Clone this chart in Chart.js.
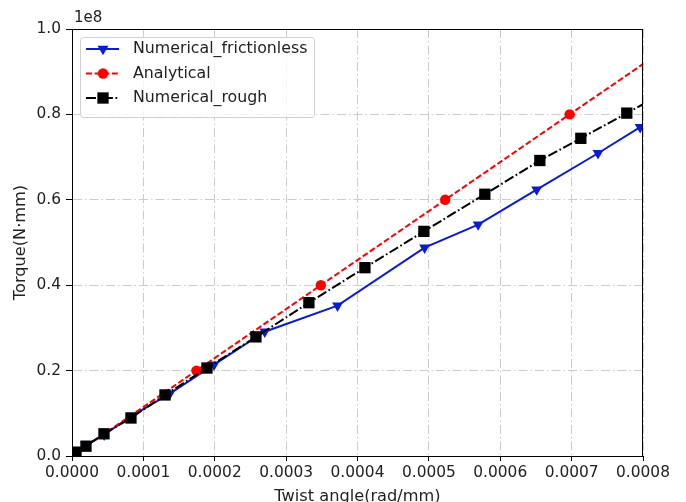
<!DOCTYPE html>
<html>
<head>
<meta charset="utf-8">
<script src="https://cdn.jsdelivr.net/npm/chart.js@4.4.1/dist/chart.umd.min.js"></script>
<style>
  html, body { margin: 0; padding: 0; background: #fff; }
  #wrap { width: 686px; height: 502px; }
</style>
</head>
<body>
<div id="wrap"><canvas id="grafico" width="686" height="502"></canvas></div>
<script>
// Datos (angulo en rad/mm, par en N·mm)
const seriesNames = ['Numerical_frictionless', 'Analytical', 'Numerical_rough'];

const frictionlessAngle  = [0.0000070, 0.0000190, 0.0000450, 0.0000840, 0.0001370, 0.0001990, 0.0002700, 0.0003720, 0.0004940, 0.0005690, 0.0006510, 0.0007370, 0.0007960];
const frictionlessTorque = [0.005e8, 0.025e8, 0.050e8, 0.094e8, 0.146e8, 0.214e8, 0.291e8, 0.352e8, 0.488e8, 0.542e8, 0.624e8, 0.709e8, 0.770e8];

const analyticalAngle  = [0.0000000, 0.0001743, 0.0003486, 0.0005229, 0.0006972, 0.0008715];
const analyticalTorque = [0.000e8, 0.200e8, 0.400e8, 0.600e8, 0.800e8, 1.000e8];

const roughAngle  = [0.0000056, 0.0000196, 0.0000448, 0.0000826, 0.0001303, 0.0001891, 0.0002577, 0.0003319, 0.0004104, 0.0004930, 0.0005784, 0.0006555, 0.0007129, 0.0007773, 0.0008450];
const roughTorque = [0.009e8, 0.023e8, 0.052e8, 0.089e8, 0.143e8, 0.206e8, 0.279e8, 0.359e8, 0.441e8, 0.526e8, 0.613e8, 0.692e8, 0.744e8, 0.803e8, 0.865e8];

const xTickStep = 0.0001;
const yTickStep = 0.2e8;

function toPoints(xs, ys) {
    return xs.map((x, i) => ({ x: x, y: ys[i] }));
}

const FONT = 'DejaVu Sans';

// Leyenda al estilo matplotlib (linea + marcador)
const legendPlugin = {
    id: 'mplLegend',
    afterDraw(chart) {
        const ctx = chart.ctx;
        const area = chart.chartArea;
        ctx.save();
        // marco completo
        ctx.strokeStyle = '#000';
        ctx.lineWidth = 1;
        ctx.setLineDash([]);
        ctx.strokeRect(area.left + 0.5, area.top + 0.5, area.right - area.left - 1, area.bottom - area.top);
        // 1e8
        ctx.fillStyle = '#222';
        ctx.font = '15px "' + FONT + '"';
        ctx.textBaseline = 'middle';
        ctx.textAlign = 'left';
        ctx.fillText('1e8', area.left + 2, 18);

        // caja de la leyenda
        const bx = 80, by = 37, bw = 234, bh = 80;
        ctx.beginPath();
        ctx.roundRect(bx + 0.5, by + 0.5, bw, bh, 3);
        ctx.fillStyle = 'rgba(255,255,255,0.8)';
        ctx.fill();
        ctx.strokeStyle = '#d0d0d0';
        ctx.stroke();

        chart.data.datasets.forEach((ds, i) => {
            const y = 49 + i * 24.5;
            ctx.strokeStyle = ds.borderColor;
            ctx.lineWidth = ds.borderWidth;
            ctx.setLineDash(ds.borderDash || []);
            ctx.beginPath();
            ctx.moveTo(86, y);
            ctx.lineTo(119, y);
            ctx.stroke();
            ctx.setLineDash([]);
            ctx.fillStyle = ds.pointBackgroundColor;
            const cx = 103, r = ds.pointRadius;
            ctx.beginPath();
            if (ds.pointStyle === 'circle') {
                ctx.arc(cx, y, r, 0, Math.PI * 2);
            } else if (ds.pointStyle === 'rect') {
                const s = r * Math.SQRT1_2;
                ctx.rect(cx - s, y - s, 2 * s, 2 * s);
            } else {
                ctx.moveTo(cx, y + r);
                ctx.lineTo(cx - r * 0.866, y - r / 2);
                ctx.lineTo(cx + r * 0.866, y - r / 2);
                ctx.closePath();
            }
            ctx.fill();
            ctx.fillStyle = '#222';
            ctx.font = '15.8px "' + FONT + '"';
            ctx.fillText(ds.label, 133, y);
        });
        ctx.restore();
    }
};

const gridCommon = {
    color: '#cccccc',
    lineWidth: 1,
    tickColor: '#000',
    tickWidth: 1,
    tickBorderDash: [],
    drawTicks: true
};

const ctx = document.getElementById('grafico').getContext('2d');
const myChart = new Chart(ctx, {
    type: 'line',
    data: {
        datasets: [{
            label: seriesNames[0],
            data: toPoints(frictionlessAngle, frictionlessTorque),
            borderColor: '#0a1bd6',
            backgroundColor: '#0a1bd6',
            pointBackgroundColor: '#0a1bd6',
            pointBorderColor: '#0a1bd6',
            borderWidth: 2,
            pointStyle: 'triangle',
            pointRotation: 180,
            pointRadius: 6.3,
            pointBorderWidth: 0,
            order: 3
        }, {
            label: seriesNames[1],
            data: toPoints(analyticalAngle, analyticalTorque),
            borderColor: '#ff0000',
            backgroundColor: '#ff0000',
            pointBackgroundColor: '#ff0000',
            pointBorderColor: '#ff0000',
            borderWidth: 2,
            borderDash: [6, 2.6],
            pointStyle: 'circle',
            pointRadius: 5.2,
            pointBorderWidth: 0,
            order: 2
        }, {
            label: seriesNames[2],
            data: toPoints(roughAngle, roughTorque),
            borderColor: '#000000',
            backgroundColor: '#000000',
            pointBackgroundColor: '#000000',
            pointBorderColor: '#000000',
            borderWidth: 2,
            borderDash: [10, 2.6, 1.7, 2.6],
            pointStyle: 'rect',
            pointRadius: 8,
            pointBorderWidth: 0,
            order: 1
        }]
    },
    options: {
        responsive: false,
        animation: false,
        layout: { padding: { top: 29, right: 43, left: 0, bottom: 0 } },
        plugins: {
            legend: { display: false },
            tooltip: { enabled: false }
        },
        elements: { line: { tension: 0, fill: false } },
        scales: {
            x: {
                type: 'linear',
                min: 0,
                max: 0.0008,
                afterFit: (s) => { s.height = 46; },
                afterBuildTicks: (s) => {
                    s.ticks = [];
                    for (let i = 0; i <= 8; i++) s.ticks.push({ value: i * xTickStep });
                },
                ticks: {
                    color: '#222',
                    font: { family: FONT, size: 15.4 },
                    padding: 3,
                    maxRotation: 0,
                    callback: (v) => v.toFixed(4)
                },
                grid: Object.assign({}, gridCommon, { tickLength: 5 }),
                border: { display: true, color: '#000', width: 1, dash: [9, 3, 1.5, 3] },
                title: {
                    display: true,
                    text: 'Twist angle(rad/mm)',
                    color: '#222',
                    font: { family: FONT, size: 16.2, lineHeight: 1 },
                    padding: { top: 0, bottom: -3 }
                }
            },
            y: {
                type: 'linear',
                min: 0,
                max: 1e8,
                afterFit: (s) => { s.width = 72; },
                afterBuildTicks: (s) => {
                    s.ticks = [];
                    for (let i = 0; i <= 5; i++) s.ticks.push({ value: i * yTickStep });
                },
                ticks: {
                    color: '#222',
                    font: { family: FONT, size: 15.4 },
                    padding: 5,
                    callback: (v) => (v / 1e8).toFixed(1)
                },
                grid: Object.assign({}, gridCommon, { tickLength: 6 }),
                border: { display: true, color: '#000', width: 1, dash: [9, 3, 1.5, 3] },
                title: {
                    display: true,
                    text: 'Torque(N·mm)',
                    color: '#222',
                    font: { family: FONT, size: 16.2 },
                    padding: { top: 11, bottom: 0 }
                }
            }
        }
    },
    plugins: [legendPlugin]
});
</script>
</body>
</html>
